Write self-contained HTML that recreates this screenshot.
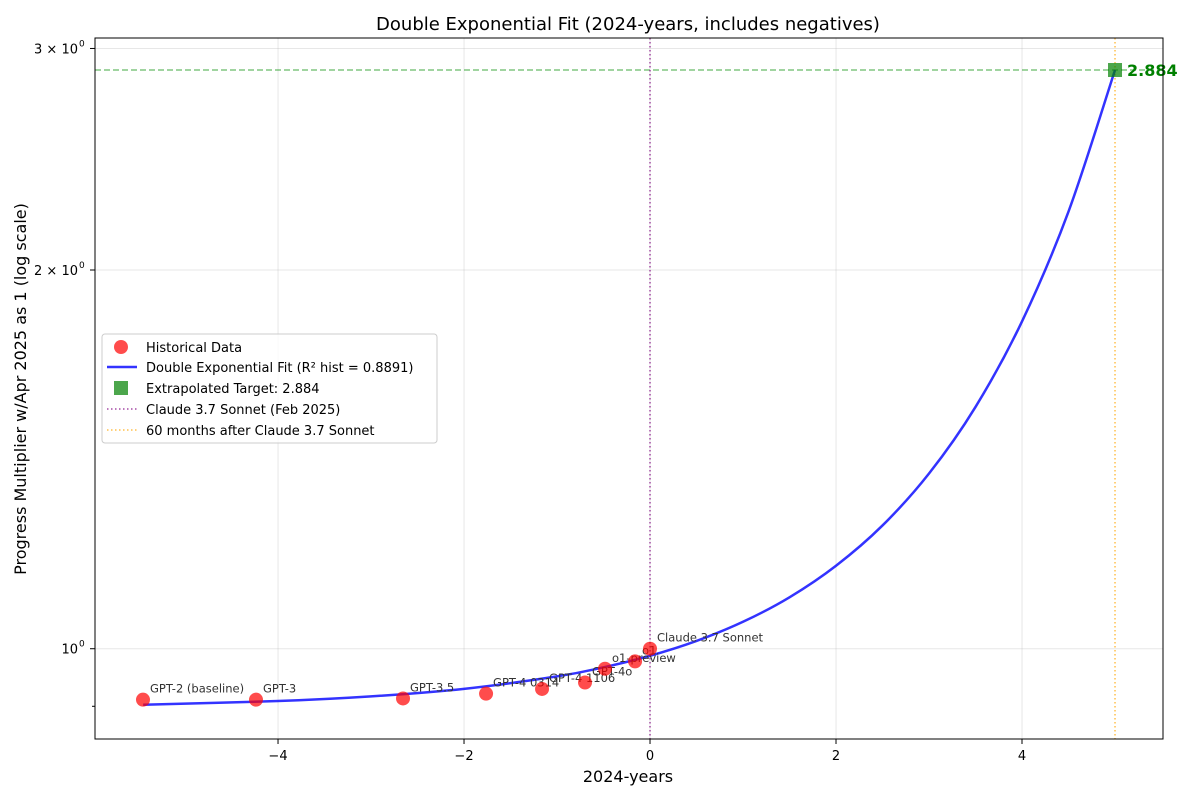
<!DOCTYPE html>
<html><head><meta charset="utf-8"><style>
body{margin:0;background:#fff;}
svg text{font-family:"DejaVu Sans","Liberation Sans",sans-serif;}
</style></head><body>
<svg id="chart" width="1200" height="800" xmlns="http://www.w3.org/2000/svg">
<rect width="1200" height="800" fill="#fff"/>
<g id="grid"></g>
<g id="refs"></g>
<g id="series"></g>
<rect x="95" y="38" width="1068" height="701" fill="none" stroke="#000" stroke-width="1"/>
<g id="axes"></g>
<text x="628" y="30" font-size="18" text-anchor="middle">Double Exponential Fit (2024-years, includes negatives)</text>
<text x="628" y="782" font-size="16" text-anchor="middle">2024-years</text>
<text transform="translate(26,389) rotate(-90)" font-size="16" text-anchor="middle">Progress Multiplier w/Apr 2025 as 1 (log scale)</text>
<g id="legend">
<rect x="102" y="334" width="335" height="109" rx="3" fill="#fff" fill-opacity="0.8" stroke="#ccc"/>
<circle cx="121" cy="347" r="7" fill="#ff0000" fill-opacity="0.7"/>
<text x="146" y="352" font-size="13">Historical Data</text>
<line x1="107" y1="367" x2="137" y2="367" stroke="#0000ff" stroke-opacity="0.8" stroke-width="2.5"/>
<text x="146" y="372" font-size="13">Double Exponential Fit (R² hist = 0.8891)</text>
<rect x="114" y="381" width="14" height="14" fill="#008000" fill-opacity="0.7"/>
<text x="146" y="393" font-size="13">Extrapolated Target: 2.884</text>
<line x1="107" y1="409" x2="137" y2="409" stroke="#800080" stroke-opacity="0.7" stroke-width="1.5" stroke-dasharray="1.5,2.5"/>
<text x="146" y="414" font-size="13">Claude 3.7 Sonnet (Feb 2025)</text>
<line x1="107" y1="430" x2="137" y2="430" stroke="#ffa500" stroke-opacity="0.7" stroke-width="1.5" stroke-dasharray="1.5,2.5"/>
<text x="146" y="435" font-size="13">60 months after Claude 3.7 Sonnet</text>
</g>
</svg>
<script>
const modelNames = ["GPT-2 (baseline)","GPT-3","GPT-3.5","GPT-4 0314","GPT-4 1106","GPT-4o","o1-preview","o1","Claude 3.7 Sonnet"];
const modelYears = [-5.452,-4.237,-2.656,-1.763,-1.161,-0.699,-0.484,-0.161,0];
const modelValues = [0.911,0.911,0.913,0.921,0.929,0.940,0.964,0.977,1.0];
const fitX = [-5.45,-4,-3,-2,-1,-0.5,0,0.5,1,1.5,2,2.5,3,3.5,4,4.5,5];
const fitY = [0.9026,0.9087,0.9165,0.9292,0.9506,0.9665,0.9872,1.0144,1.0505,1.0987,1.1640,1.2531,1.3780,1.5567,1.8204,2.2259,2.884];
const targetX = 5, targetY = 2.884;
const claudeX = 0;
const xTicks = [-4,-2,0,2,4];
const yMajor = [1,2,3];
const yLabels = ["10","2 × 10","3 × 10"];
const yMinor = [0.9];

const NS="http://www.w3.org/2000/svg";
const X0=95,X1=1163,Y0=38,Y1=739;
const xMin=-5.968,xMax=5.516;
const lMin=Math.log10(0.8477),lMax=Math.log10(3.058);
const sx=v=>X0+(v-xMin)/(xMax-xMin)*(X1-X0);
const sy=v=>Y1-(Math.log10(v)-lMin)/(lMax-lMin)*(Y1-Y0);
function mk(tag,attrs,parent,text){const e=document.createElementNS(NS,tag);for(const k in attrs)e.setAttribute(k,attrs[k]);if(text!==undefined)e.textContent=text;parent.appendChild(e);return e;}
const grid=document.getElementById('grid'),axes=document.getElementById('axes'),refs=document.getElementById('refs'),ser=document.getElementById('series');

xTicks.forEach(t=>{
  const x=sx(t);
  const g=mk('line',{x1:x,x2:x,y1:Y0,y2:Y1,stroke:'#b0b0b0','stroke-opacity':0.3,'stroke-width':1},grid);
  
  
  const tk=mk('line',{x1:x,x2:x,y1:Y1,y2:Y1+5,stroke:'#000'},axes);
  
  
  const lb=mk('text',{x:x,y:Y1+21,'font-size':13,'text-anchor':'middle'},axes,(t<0?'\u2212':'')+Math.abs(t));
  
  
});
yMajor.forEach((t,i)=>{
  const y=sy(t);
  const g=mk('line',{x1:X0,x2:X1,y1:y,y2:y,stroke:'#b0b0b0','stroke-opacity':0.3,'stroke-width':1},grid);
  
  
  const tk=mk('line',{x1:X0-5,x2:X0,y1:y,y2:y,stroke:'#000'},axes);
  
  
  const lb=mk('text',{x:X0-17,y:y+5,'font-size':13,'text-anchor':'end'},axes,yLabels[i]);
  
  
  const sp=mk('text',{x:X0-16,y:y-2,'font-size':9},axes,'0');
  
  
});
yMinor.forEach(t=>{
  const y=sy(t);
  const tk=mk('line',{x1:X0-3,x2:X0,y1:y,y2:y,stroke:'#000'},axes);
  
  
});

const hl=mk('line',{x1:X0,x2:X1,y1:sy(targetY),y2:sy(targetY),stroke:'#2ca02c','stroke-opacity':0.6,'stroke-width':1.5,'stroke-dasharray':'6,3'},refs);


const cl=mk('line',{x1:sx(claudeX),x2:sx(claudeX),y1:Y0,y2:Y1,stroke:'#800080','stroke-opacity':0.7,'stroke-width':1.5,'stroke-dasharray':'1.5,2.5'},refs);


const ol=mk('line',{x1:sx(targetX),x2:sx(targetX),y1:Y0,y2:Y1,stroke:'#ffa500','stroke-opacity':0.7,'stroke-width':1.5,'stroke-dasharray':'1.5,2.5'},refs);



const P=fitX.map((x,i)=>[sx(x),sy(fitY[i])]);
let d='M'+P[0][0]+','+P[0][1];
for(let i=0;i<P.length-1;i++){
  const p0=P[Math.max(0,i-1)],p1=P[i],p2=P[i+1],p3=P[Math.min(P.length-1,i+2)];
  const c1=[p1[0]+(p2[0]-p0[0])/6,p1[1]+(p2[1]-p0[1])/6];
  const c2=[p2[0]-(p3[0]-p1[0])/6,p2[1]-(p3[1]-p1[1])/6];
  d+=' C'+c1+' '+c2+' '+p2;
}
const fit=mk('path',{d:d,fill:'none',stroke:'#0000ff','stroke-opacity':0.8,'stroke-width':2.5},ser);



modelYears.forEach((x,i)=>{
  const cx=sx(x),cy=sy(modelValues[i]);
  const c=mk('circle',{cx:cx,cy:cy,r:7,fill:'#ff0000','fill-opacity':0.7},ser);
  
  
  const t=mk('text',{x:cx+7,y:cy-7,'font-size':11.5,fill:'#333'},ser,modelNames[i]);
  
  
});

const tx=sx(targetX),ty=sy(targetY);
const sq=mk('rect',{x:tx-7,y:ty-7,width:14,height:14,fill:'#008000','fill-opacity':0.7},ser);


const tl=mk('text',{x:tx+12,y:ty+6,'font-size':16,'font-weight':'bold',fill:'#008000'},ser,targetY.toFixed(3));


</script>
</body></html>
